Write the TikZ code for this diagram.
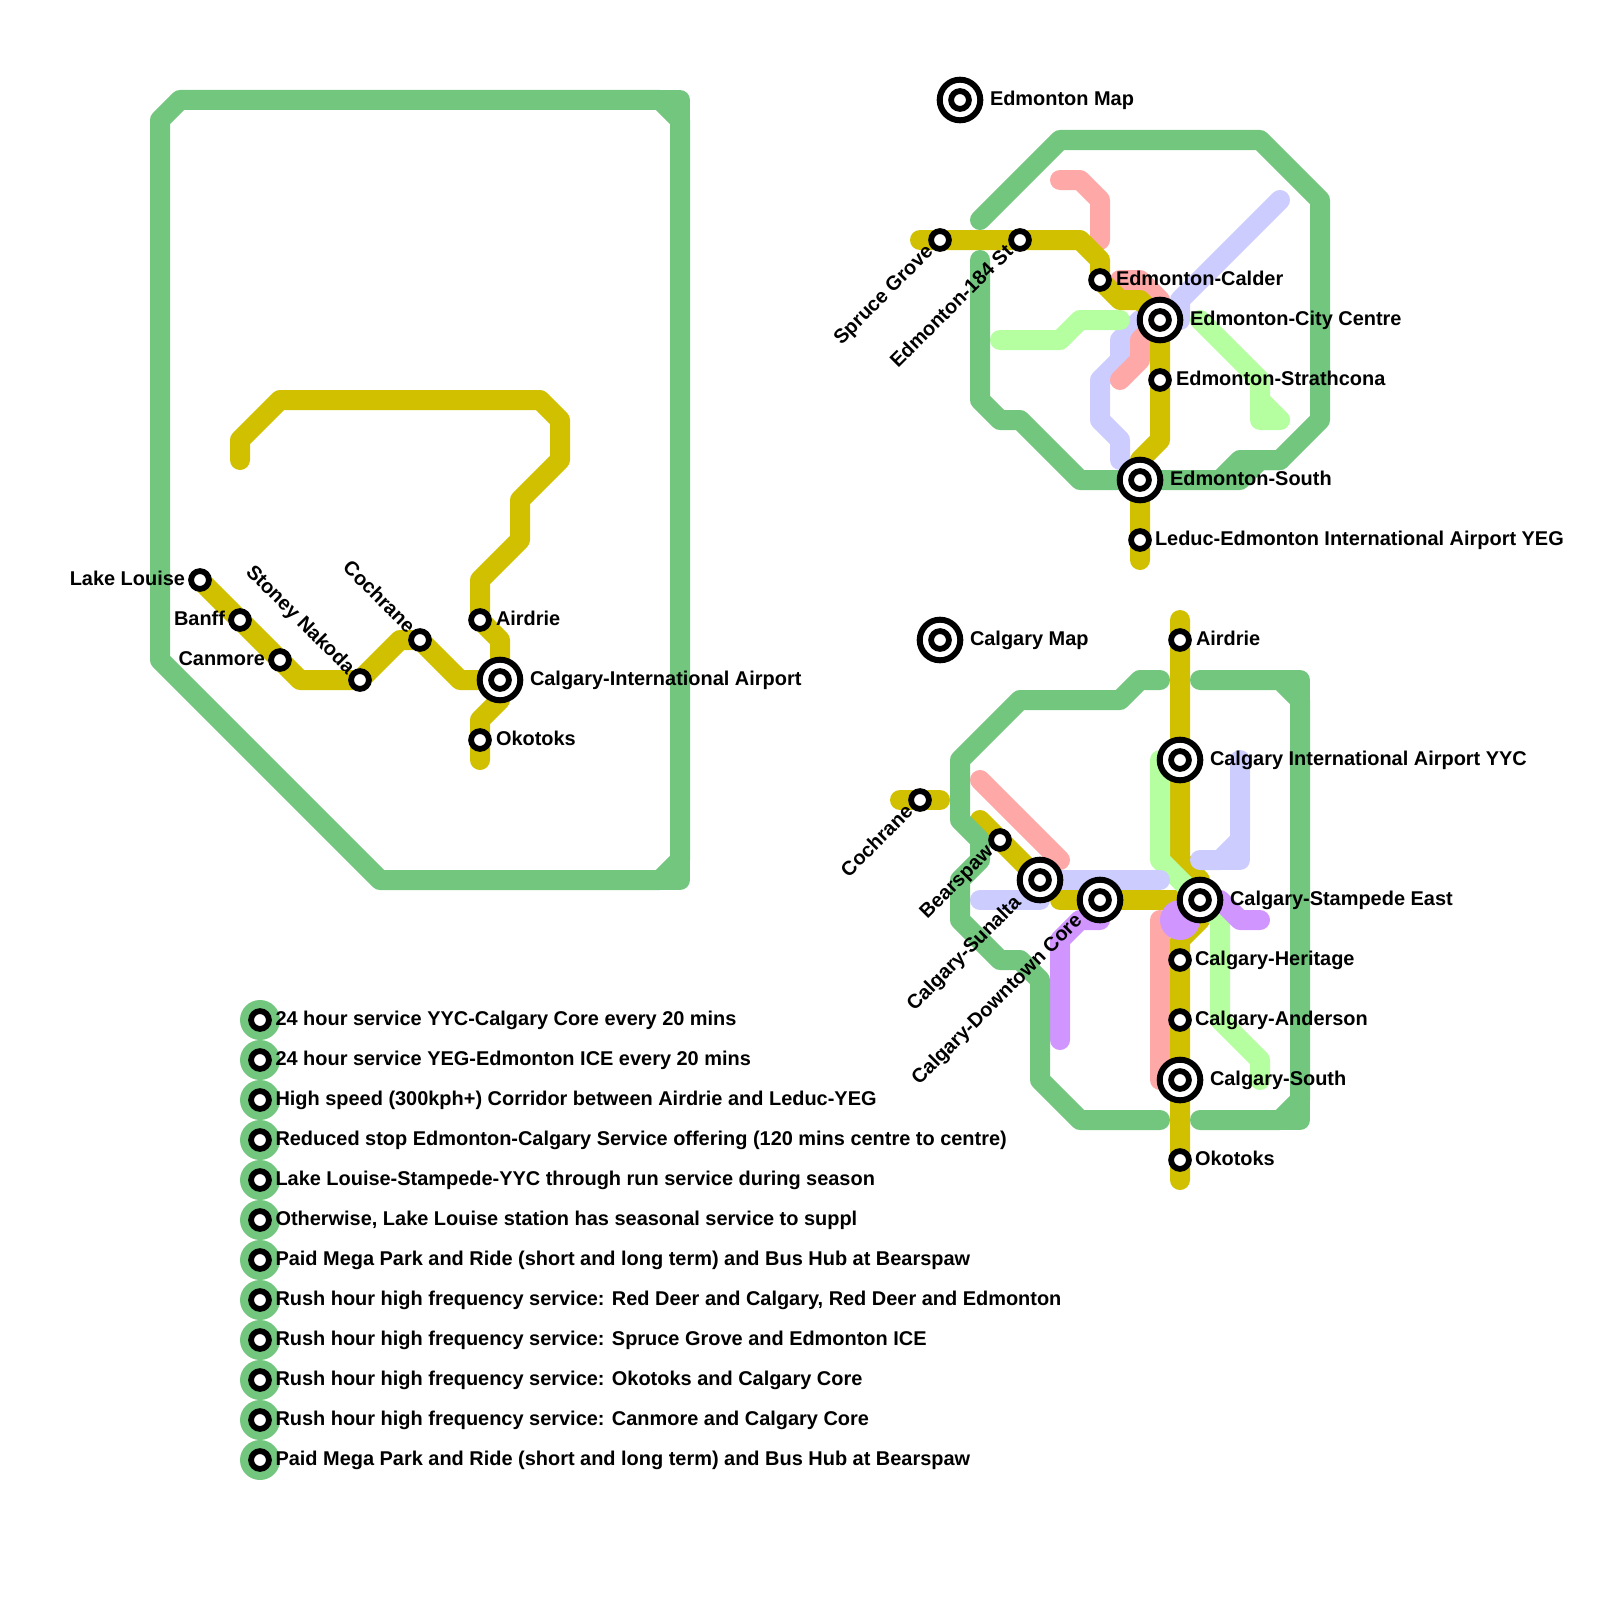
\documentclass[tikz,border=0pt]{standalone}
\usepackage{fontspec}
\setmainfont{Liberation Sans}[BoldFont={Liberation Sans Bold}]
\definecolor{cgreen}{HTML}{72C67E}
\definecolor{cyellow}{HTML}{D0C000}
\definecolor{cpink}{HTML}{FFA8A8}
\definecolor{clav}{HTML}{CCCCFF}
\definecolor{clight}{HTML}{B5FFA0}
\definecolor{cpurple}{HTML}{D095FF}
\tikzset{
  route/.style={line width=10pt,line cap=round,line join=round},
  stsmall/.style={circle,draw=black,line width=2.9pt,fill=white,minimum size=8.9pt,inner sep=0pt,outer sep=0pt},
  stbig/.style={circle,draw=black,line width=3pt,fill=white,minimum size=20.3pt,inner sep=0pt,outer sep=0pt},
  lab/.style={font=\bfseries\fontsize{9.97pt}{11pt}\selectfont,inner sep=0pt,outer sep=0pt,text=black},
  labr/.style={lab,anchor=base west},
  labu/.style={lab,anchor=base east,rotate=45},
  labd/.style={lab,anchor=base east,rotate=-45},
  legdot/.style={circle,fill=cgreen,minimum size=20pt,inner sep=0pt,outer sep=0pt}
}
\newcommand{\smallst}[1]{\node[stsmall] (n#1) at (#1) {};}
\newcommand{\bigst}[1]{\node[stbig] (r#1) at (#1) {};\node[stsmall] (n#1) at (#1) {};}
\begin{document}
\begin{tikzpicture}[x=0.5pt,y=-0.5pt]
\useasboundingbox (0,0) rectangle (1600,1600);
% stations
\coordinate (lakelouise) at (200,580);
\coordinate (banff) at (240,620);
\coordinate (canmore) at (280,660);
\coordinate (stoney) at (360,680);
\coordinate (cochraneA) at (420,640);
\coordinate (airdrieA) at (480,620);
\coordinate (intlA) at (500,680);
\coordinate (okotoksA) at (480,740);
\coordinate (edmap) at (960,100);
\coordinate (spruce) at (940,240);
\coordinate (stAAA) at (1020,240);
\coordinate (calder) at (1100,280);
\coordinate (citycentre) at (1160,320);
\coordinate (strathcona) at (1160,380);
\coordinate (edsouth) at (1140,480);
\coordinate (leduc) at (1140,540);
\coordinate (calmap) at (940,640);
\coordinate (airdrieB) at (1180,640);
\coordinate (yyc) at (1180,760);
\coordinate (cochraneB) at (920,800);
\coordinate (bearspaw) at (1000,840);
\coordinate (sunalta) at (1040,880);
\coordinate (downtown) at (1100,900);
\coordinate (stampede) at (1200,900);
\coordinate (heritage) at (1180,960);
\coordinate (anderson) at (1180,1020);
\coordinate (calsouth) at (1180,1080);
\coordinate (okotoksB) at (1180,1160);
% lavender (Edmonton)
\draw[route,clav] (1280,200) -- (1180,300) -- (1180,320) -- (1140,320) -- (1120,340) -- (1120,360) -- (1100,380) -- (1100,420) -- (1120,440) -- (1120,460);
% pink
\draw[route,cpink] (1060,180) -- (1080,180) -- (1100,200) -- (1100,240);
\draw[route,cpink] (1120,280) -- (1140,280) -- (citycentre |- 1140,300) -- (citycentre) -- (1140,340) -- (1140,360) -- (1120,380);
\draw[route,cpink] (980,780) -- (1060,860);
\draw[route,cpink] (1160,920) -- (1160,1080) -- (calsouth);
% light green (Edmonton)
\draw[route,clight] (1000,340) -- (1060,340) -- (1080,320) -- (1120,320);
\draw[route,clight] (1200,320) -- (1260,380) -- (1260,420) -- (1280,420) -- (1260,400);
% yellow
\draw[route,cyellow] (lakelouise) -- (banff) -- (canmore) -- (300,680) -- (stoney) -- (400,640) -- (cochraneA) -- (460,680) -- (intlA);
\draw[route,cyellow] (240,460) -- (240,440) -- (280,400) -- (540,400) -- (560,420) -- (560,460) -- (520,500) -- (520,540) -- (480,580) -- (airdrieA) -- (500,640) -- (intlA) -- (500,700) -- (480,720) -- (okotoksA) -- (480,760);
\draw[route,cyellow] (920,240) -- (spruce) -- (stAAA) -- (1080,240) -- (1100,260) -- (calder) -- (1120,300) -- (1140,300) -- (citycentre) -- (strathcona) -- (1160,440) -- (1140,460) -- (edsouth) -- (leduc) -- (1140,560);
\draw[route,cyellow] (1180,620) -- (airdrieB) -- (yyc) -- (1180,860) -- (1200,880) -- (stampede) -- (1200,920) -- (1180,940) -- (heritage) -- (anderson) -- (calsouth) -- (okotoksB) -- (1180,1180);
\draw[route,cyellow] (900,800) -- (cochraneB) -- (940,800);
\draw[route,cyellow] (980,820) -- (bearspaw) -- (sunalta);
\draw[route,cyellow] (1060,900) -- (downtown) -- (stampede);
% light green (Calgary)
\draw[route,clight] (1160,760) -- (1160,860) -- (stampede);
\draw[route,clight] (stampede) -- (1220,920) -- (1220,1020) -- (1260,1060) -- (1260,1080);
% lavender (Calgary)
\draw[route,clav] (980,900) -- (sunalta |- 980,900);
\draw[route,clav] (sunalta) -- (1160,880);
\draw[route,clav] (1200,860) -- (1220,860) -- (1240,840) -- (1240,760);
\draw[route,clav] (1220,860) -- (1240,860) -- (1240,840);
% purple
\draw[route,cpurple] (1060,1040) -- (1060,940) -- (1080,920) -- (1100,920);
\draw[route,cpurple] (stampede) -- (1220,900) -- (1240,920) -- (1260,920);
\fill[cpurple] (1180,920) circle[radius=20];
% green
\draw[route,cgreen] (160,660) -- (160,120) -- (180,100) -- (660,100) -- (680,120) -- (680,860) -- (660,880) -- (380,880) -- cycle;
\draw[route,cgreen] (660,100) -- (680,100) -- (680,120);
\draw[route,cgreen] (680,860) -- (680,880) -- (660,880);
\draw[route,cgreen] (980,220) -- (1060,140) -- (1260,140) -- (1320,200) -- (1320,420) -- (1280,460) -- (1240,460) -- (1220,480) -- (1080,480) -- (1020,420) -- (1000,420) -- (980,400) -- (980,260);
\draw[route,cgreen] (1220,480) -- (1240,480) -- (1260,460) -- (1280,460);
\draw[route,cgreen] (1160,680) -- (1140,680) -- (1120,700) -- (1020,700) -- (960,760) -- (960,820) -- (980,840) -- (980,860) -- (960,880) -- (960,920) -- (1000,960) -- (1020,960) -- (1040,980) -- (1040,1080) -- (1080,1120) -- (1160,1120);
\draw[route,cgreen] (1200,680) -- (1280,680) -- (1300,700) -- (1300,1100) -- (1280,1120) -- (1200,1120);
\draw[route,cgreen] (1280,680) -- (1300,680) -- (1300,700);
\draw[route,cgreen] (1300,1100) -- (1300,1120) -- (1280,1120);
% station marks
\smallst{lakelouise}\smallst{banff}\smallst{canmore}\smallst{stoney}\smallst{cochraneA}\smallst{airdrieA}\smallst{okotoksA}
\bigst{intlA}\bigst{edmap}
\smallst{spruce}\smallst{stAAA}\smallst{calder}\smallst{strathcona}\smallst{leduc}
\bigst{citycentre}\bigst{edsouth}
\bigst{calmap}\bigst{yyc}\bigst{sunalta}\bigst{downtown}\bigst{stampede}\bigst{calsouth}
\smallst{airdrieB}\smallst{cochraneB}\smallst{bearspaw}\smallst{heritage}\smallst{anderson}\smallst{okotoksB}
% labels
\node[lab,anchor=base east] (tlake) at (185,585) {Lake Louise};
\node[lab,anchor=base east] (tbanff) at (225,625) {Banff};
\node[lab,anchor=base east] (tcanmore) at (265,665) {Canmore};
\node[labd] (tstoney) at (347,675) {Stoney Nakoda};
\node[labd] (tcochA) at (407,634) {Cochrane};
\node[labr] (tairA) at (496,625) {Airdrie};
\node[labr] (tintlA) at (530,685) {Calgary-International Airport};
\node[labr] (tokoA) at (496,745) {Okotoks};
\node[labr] (tedmap) at (990,105) {Edmonton Map};
\node[labu] (tspruce) at (934,253) {Spruce Grove};
\node[labu] (t184) at (1014,253) {Edmonton-184 St};
\node[labr] (tcalder) at (1116,285) {Edmonton-Calder};
\node[labr] (tcity) at (1190,325) {Edmonton-City Centre};
\node[labr] (tstrath) at (1176,385) {Edmonton-Strathcona};
\node[labr] (tedsouth) at (1170,485) {Edmonton-South};
\node[labr] (tleduc) at (1155,545) {Leduc-Edmonton International Airport YEG};
\node[labr] (tcalmap) at (970,645) {Calgary Map};
\node[labr] (tairB) at (1196,645) {Airdrie};
\node[labr] (tyyc) at (1210,765) {Calgary International Airport YYC};
\node[labu] (tcochB) at (914,813) {Cochrane};
\node[labu] (tbear) at (994,853) {Bearspaw};
\node[labu] (tsun) at (1022,904) {Calgary-Sunalta};
\node[labu] (tdown) at (1083,922) {Calgary-Downtown Core};
\node[labr] (tstamp) at (1230,905) {Calgary-Stampede East};
\node[labr] (ther) at (1195,965) {Calgary-Heritage};
\node[labr] (tand) at (1195,1025) {Calgary-Anderson};
\node[labr] (tcsouth) at (1210,1085) {Calgary-South};
\node[labr] (tokoB) at (1195,1165) {Okotoks};
% legend
\foreach \i/\t in {0/{24 hour service YYC-Calgary Core every 20 mins},
 1/{24 hour service YEG-Edmonton ICE every 20 mins},
 2/{High speed (300kph+) Corridor between Airdrie and Leduc-YEG},
 3/{Reduced stop Edmonton-Calgary Service offering (120 mins centre to centre)},
 4/{Lake Louise-Stampede-YYC through run service during season},
 5/{Otherwise, Lake Louise station has seasonal service to suppl},
 6/{Paid Mega Park and Ride (short and long term) and Bus Hub at Bearspaw},
 7/{Rush hour high frequency service: Red Deer and Calgary, Red Deer and Edmonton},
 8/{Rush hour high frequency service: Spruce Grove and Edmonton ICE},
 9/{Rush hour high frequency service: Okotoks and Calgary Core},
 10/{Rush hour high frequency service: Canmore and Calgary Core},
 11/{Paid Mega Park and Ride (short and long term) and Bus Hub at Bearspaw}}{
  \pgfmathsetmacro{\yy}{1020+40*\i}
  \node[legdot] (g\i) at (260,\yy) {};
  \node[stsmall] (s\i) at (260,\yy) {};
  \node[labr] (t\i) at (275.5,\yy+5) {\t};
}
\end{tikzpicture}
\end{document}
